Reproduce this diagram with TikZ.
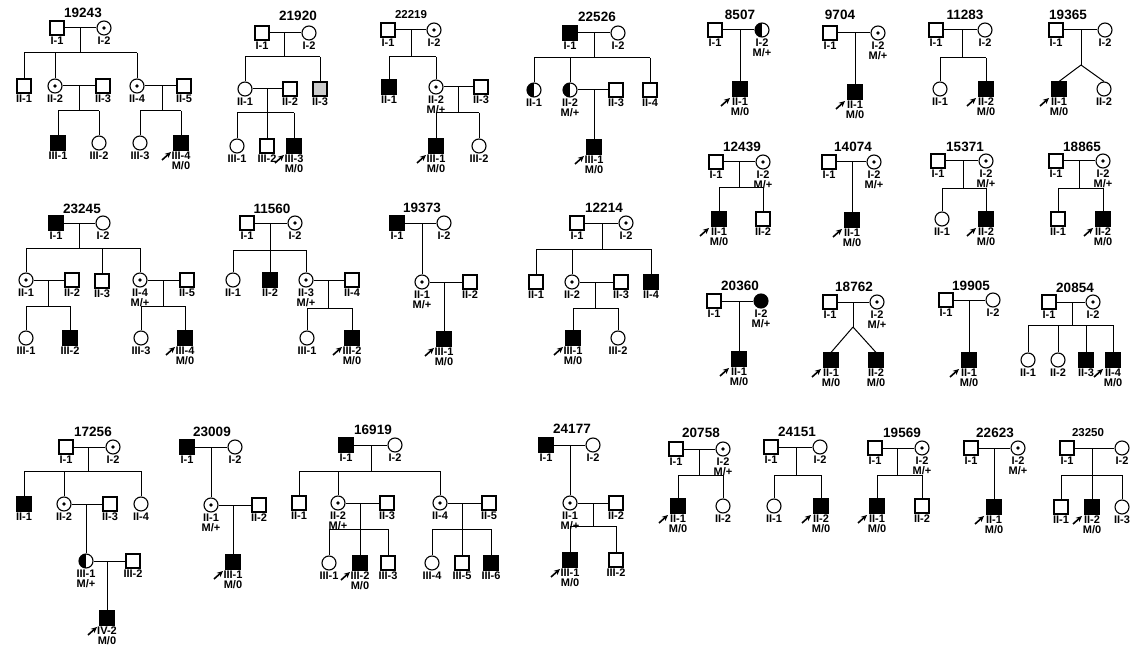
\documentclass[tikz,border=0pt]{standalone}
\usepackage{fontspec}
\setmainfont{Liberation Sans}
\usetikzlibrary{arrows.meta,calc}
\newcommand\PInd[5]{\node[#4] (#1) at (#2,#3) {}; \node[lbl] (#1l) at (#2,#3+8) {#5};}
\newcommand\PProb[1]{\draw[prob] ($(#1)+(-19,17)$) -- ($(#1)+(-10,9)$);}
\newcommand\PSib[3]{\draw (#2 |- #1) -- (#3 |- #1);}
\newcommand\PDrop[2]{\draw (#2 |- #1) -- (#2);}
\tikzset{
  sym/.style={draw, line width=1.1pt, inner sep=0pt, minimum size=14pt, fill=white},
  sq/.style={sym, rectangle},
  sqa/.style={sym, rectangle, fill=black},
  hat/.style={sym, rectangle, fill=gray!40},
  ci/.style={sym, circle},
  cia/.style={sym, circle, fill=black},
  car/.style={sym, circle, path picture={\fill[black] (path picture bounding box.center) circle (1.8pt);}},
  half/.style={sym, circle, path picture={\fill[black] (path picture bounding box.north west) rectangle (path picture bounding box.south);}},
  lbl/.style={anchor=north, inner sep=0.5pt, align=center, font=\bfseries\fontsize{11}{9.5}\selectfont},
  ttl/.style={inner sep=0pt, font=\bfseries\fontsize{13.5}{14}\selectfont},
  ttls/.style={inner sep=0pt, font=\bfseries\fontsize{11.5}{12}\selectfont},
  prob/.style={-{Stealth[length=6pt,width=5.5pt]}, line width=1.6pt}
}
\begin{document}
\begin{tikzpicture}[x=1pt,y=-1pt,line width=1pt]
\fill[white] (0,0) rectangle (1130,650);
\useasboundingbox (0,0) rectangle (1130,650);
% ---------- 19243
\node[ttl] (TA) at (83,13) {19243};
\PInd{A11}{57}{28}{sq}{I-1}
\PInd{A12}{104}{28}{car}{I-2}
\draw (A11) -- (A12);
\coordinate (Am) at (80,28); \coordinate (As) at (80,53);
\draw (Am) -- (As);
\PInd{A21}{24}{86}{sq}{II-1}
\PInd{A22}{55}{86}{car}{II-2}
\PInd{A23}{103}{86}{sq}{II-3}
\PInd{A24}{137}{86}{car}{II-4}
\PInd{A25}{184}{86}{sq}{II-5}
\PSib{As}{A21}{A24} \PDrop{As}{A21} \PDrop{As}{A22} \PDrop{As}{A24}
\draw (A22) -- (A23);
\coordinate (Am2) at (79,86); \coordinate (As2) at (79,111);
\draw (Am2) -- (As2);
\PInd{A31}{58}{143}{sqa}{III-1}
\PInd{A32}{99}{143}{ci}{III-2}
\PSib{As2}{A31}{A32} \PDrop{As2}{A31} \PDrop{As2}{A32}
\draw (A24) -- (A25);
\coordinate (Am3) at (162,86); \coordinate (As3) at (162,111);
\draw (Am3) -- (As3);
\PInd{A33}{140}{143}{ci}{III-3}
\PInd{A34}{181}{143}{sqa}{III-4\\M/0}
\PSib{As3}{A33}{A34} \PDrop{As3}{A33} \PDrop{As3}{A34}
\PProb{A34}
% ---------- 21920
\node[ttl] (TB) at (298,16) {21920};
\PInd{B11}{262}{33}{sq}{I-1}
\PInd{B12}{309}{33}{ci}{I-2}
\draw (B11) -- (B12);
\coordinate (Bm) at (284,33); \coordinate (Bs) at (284,57);
\draw (Bm) -- (Bs);
\PInd{B21}{245}{89}{ci}{II-1}
\PInd{B22}{290}{89}{sq}{II-2}
\PInd{B23}{320}{89}{hat}{II-3}
\PSib{Bs}{B21}{B23} \PDrop{Bs}{B21} \PDrop{Bs}{B23}
\draw (B21) -- (B22);
\coordinate (Bm2) at (267,89); \coordinate (Bs2) at (267,113);
\draw (Bm2) -- (Bs2);
\PInd{B31}{237}{146}{ci}{III-1}
\PInd{B32}{267}{146}{sq}{III-2}
\PInd{B33}{294}{146}{sqa}{III-3\\M/0}
\PSib{Bs2}{B31}{B33} \PDrop{Bs2}{B31} \PDrop{Bs2}{B32} \PDrop{Bs2}{B33}
\PProb{B33}
% ---------- 22219
\node[ttls] (TC) at (411,15) {22219};
\PInd{C11}{388}{30}{sq}{I-1}
\PInd{C12}{434}{30}{car}{I-2}
\draw (C11) -- (C12);
\coordinate (Cm) at (411,30); \coordinate (Cs) at (411,57);
\draw (Cm) -- (Cs);
\PInd{C21}{389}{87}{sqa}{II-1}
\PInd{C22}{436}{87}{car}{II-2\\M/+}
\PInd{C23}{481}{87}{sq}{II-3}
\PSib{Cs}{C21}{C22} \PDrop{Cs}{C21} \PDrop{Cs}{C22}
\draw (C22) -- (C23);
\coordinate (Cm2) at (458,87); \coordinate (Cs2) at (458,113);
\draw (Cm2) -- (Cs2);
\PInd{C31}{436}{146}{sqa}{III-1\\M/0}
\PInd{C32}{479}{146}{ci}{III-2}
\PSib{Cs2}{C31}{C32} \PDrop{Cs2}{C31} \PDrop{Cs2}{C32}
\PProb{C31}
% ---------- 22526
\node[ttl] (TD) at (597,17) {22526};
\PInd{D11}{570}{33}{sqa}{I-1}
\PInd{D12}{618}{33}{ci}{I-2}
\draw (D11) -- (D12);
\coordinate (Dm) at (594,33); \coordinate (Ds) at (594,58);
\draw (Dm) -- (Ds);
\PInd{D21}{534}{90}{half}{II-1}
\PInd{D22}{570}{90}{half}{II-2\\M/+}
\PInd{D23}{616}{90}{sq}{II-3}
\PInd{D24}{650}{90}{sq}{II-4}
\PSib{Ds}{D21}{D24} \PDrop{Ds}{D21} \PDrop{Ds}{D22} \PDrop{Ds}{D24}
\draw (D22) -- (D23);
\coordinate (Dm2) at (594,90);
\PInd{D31}{594}{147}{sqa}{III-1\\M/0}
\draw (Dm2) -- (D31);
\PProb{D31}
% ---------- 8507
\node[ttl] (TE) at (740,15) {8507};
\PInd{E11}{715}{30}{sq}{I-1}
\PInd{E12}{762}{30}{half}{I-2\\M/+}
\draw (E11) -- (E12);
\coordinate (Em) at (740,30);
\PInd{E21}{740}{89}{sqa}{II-1\\M/0}
\draw (Em) -- (E21);
\PProb{E21}
% ---------- 9704
\node[ttl] (TF) at (840,15) {9704};
\PInd{F11}{830}{33}{sq}{I-1}
\PInd{F12}{878}{33}{car}{I-2\\M/+}
\draw (F11) -- (F12);
\coordinate (Fm) at (855,33);
\PInd{F21}{855}{92}{sqa}{II-1\\M/0}
\draw (Fm) -- (F21);
\PProb{F21}
% ---------- 11283
\node[ttl] (TG) at (965,15) {11283};
\PInd{G11}{936}{30}{sq}{I-1}
\PInd{G12}{985}{30}{ci}{I-2}
\draw (G11) -- (G12);
\coordinate (Gm) at (962,30); \coordinate (Gs) at (962,58);
\draw (Gm) -- (Gs);
\PInd{G21}{940}{89}{ci}{II-1}
\PInd{G22}{986}{89}{sqa}{II-2\\M/0}
\PSib{Gs}{G21}{G22} \PDrop{Gs}{G21} \PDrop{Gs}{G22}
\PProb{G22}
% ---------- 19365
\node[ttl] (TH) at (1068,15) {19365};
\PInd{H11}{1056}{30}{sq}{I-1}
\PInd{H12}{1105}{30}{ci}{I-2}
\draw (H11) -- (H12);
\coordinate (Hm) at (1081,30); \coordinate (Hs) at (1081,65);
\draw (Hm) -- (Hs);
\PInd{H21}{1059}{89}{sqa}{II-1\\M/0}
\PInd{H22}{1104}{89}{ci}{II-2}
\draw (Hs) -- (H21.north); \draw (Hs) -- (H22.north);
\PProb{H21}
% ---------- 12439
\node[ttl] (TI) at (742,147) {12439};
\PInd{I11}{716}{162}{sq}{I-1}
\PInd{I12}{763}{162}{car}{I-2\\M/+}
\draw (I11) -- (I12);
\coordinate (Im) at (739,162); \coordinate (Is) at (739,187);
\draw (Im) -- (Is);
\PInd{I21}{719}{219}{sqa}{II-1\\M/0}
\PInd{I22}{763}{219}{sq}{II-2}
\PSib{Is}{I21}{I22} \PDrop{Is}{I21} \PDrop{Is}{I22}
\PProb{I21}
% ---------- 14074
\node[ttl] (TJ) at (853,147) {14074};
\PInd{J11}{829}{162}{sq}{I-1}
\PInd{J12}{874}{162}{car}{I-2\\M/+}
\draw (J11) -- (J12);
\coordinate (Jm) at (852,162);
\PInd{J21}{852}{220}{sqa}{II-1\\M/0}
\draw (Jm) -- (J21);
\PProb{J21}
% ---------- 15371
\node[ttl] (TK) at (965,147) {15371};
\PInd{K11}{938}{161}{sq}{I-1}
\PInd{K12}{986}{161}{car}{I-2\\M/+}
\draw (K11) -- (K12);
\coordinate (Km) at (963,161); \coordinate (Ks) at (963,188);
\draw (Km) -- (Ks);
\PInd{K21}{942}{219}{ci}{II-1}
\PInd{K22}{986}{219}{sqa}{II-2\\M/0}
\PSib{Ks}{K21}{K22} \PDrop{Ks}{K21} \PDrop{Ks}{K22}
\PProb{K22}
% ---------- 18865
\node[ttl] (TL) at (1082,147) {18865};
\PInd{L11}{1056}{161}{sq}{I-1}
\PInd{L12}{1103}{161}{car}{I-2\\M/+}
\draw (L11) -- (L12);
\coordinate (Lm) at (1079,161); \coordinate (Ls) at (1079,188);
\draw (Lm) -- (Ls);
\PInd{L21}{1058}{219}{sq}{II-1}
\PInd{L22}{1103}{219}{sqa}{II-2\\M/0}
\PSib{Ls}{L21}{L22} \PDrop{Ls}{L21} \PDrop{Ls}{L22}
\PProb{L22}
% ---------- 23245
\node[ttl] (TM) at (82,209) {23245};
\PInd{M11}{56}{223}{sqa}{I-1}
\PInd{M12}{103}{223}{ci}{I-2}
\draw (M11) -- (M12);
\coordinate (Mm) at (79,223); \coordinate (Ms) at (79,248);
\draw (Mm) -- (Ms);
\PInd{M21}{26}{280}{car}{II-1}
\PInd{M22}{72}{280}{sq}{II-2}
\PInd{M23}{102}{281}{sq}{II-3}
\PInd{M24}{140}{280}{car}{II-4\\M/+}
\PInd{M25}{187}{280}{sq}{II-5}
\PSib{Ms}{M21}{M24} \PDrop{Ms}{M21} \PDrop{Ms}{M23} \PDrop{Ms}{M24}
\draw (M21) -- (M22);
\coordinate (Mm2) at (48,280); \coordinate (Ms2) at (48,306);
\draw (Mm2) -- (Ms2);
\PInd{M31}{26}{338}{ci}{III-1}
\PInd{M32}{70}{338}{sqa}{III-2}
\PSib{Ms2}{M31}{M32} \PDrop{Ms2}{M31} \PDrop{Ms2}{M32}
\draw (M24) -- (M25);
\coordinate (Mm3) at (163,280); \coordinate (Ms3) at (163,306);
\draw (Mm3) -- (Ms3);
\PInd{M33}{141}{338}{ci}{III-3}
\PInd{M34}{185}{338}{sqa}{III-4\\M/0}
\PSib{Ms3}{M33}{M34} \PDrop{Ms3}{M33} \PDrop{Ms3}{M34}
\PProb{M34}
% ---------- 11560
\node[ttl] (TN) at (272,209) {11560};
\PInd{N11}{247}{223}{sq}{I-1}
\PInd{N12}{295}{223}{car}{I-2}
\draw (N11) -- (N12);
\coordinate (Nm) at (270,223); \coordinate (Ns) at (270,250);
\draw (Nm) -- (Ns);
\PInd{N21}{233}{280}{ci}{II-1}
\PInd{N22}{270}{280}{sqa}{II-2}
\PInd{N23}{306}{280}{car}{II-3\\M/+}
\PInd{N24}{352}{280}{sq}{II-4}
\PSib{Ns}{N21}{N23} \PDrop{Ns}{N21} \PDrop{Ns}{N22} \PDrop{Ns}{N23}
\draw (N23) -- (N24);
\coordinate (Nm2) at (328,280); \coordinate (Ns2) at (328,308);
\draw (Nm2) -- (Ns2);
\PInd{N31}{307}{338}{ci}{III-1}
\PInd{N32}{352}{338}{sqa}{III-2\\M/0}
\PSib{Ns2}{N31}{N32} \PDrop{Ns2}{N31} \PDrop{Ns2}{N32}
\PProb{N32}
% ---------- 19373
\node[ttl] (TO) at (422,208) {19373};
\PInd{O11}{397}{223}{sqa}{I-1}
\PInd{O12}{444}{223}{ci}{I-2}
\draw (O11) -- (O12);
\coordinate (Om) at (422,223);
\PInd{O21}{422}{282}{car}{II-1\\M/+}
\PInd{O22}{470}{282}{sq}{II-2}
\draw (Om) -- (O21);
\draw (O21) -- (O22);
\coordinate (Om2) at (444,282);
\PInd{O31}{444}{339}{sqa}{III-1\\M/0}
\draw (Om2) -- (O31);
\PProb{O31}
% ---------- 12214
\node[ttl] (TP) at (604,208) {12214};
\PInd{P11}{577}{223}{sq}{I-1}
\PInd{P12}{626}{223}{car}{I-2}
\draw (P11) -- (P12);
\coordinate (Pm) at (602,223); \coordinate (Ps) at (602,249);
\draw (Pm) -- (Ps);
\PInd{P21}{536}{282}{sq}{II-1}
\PInd{P22}{572}{282}{car}{II-2}
\PInd{P23}{621}{282}{sq}{II-3}
\PInd{P24}{651}{282}{sqa}{II-4}
\PSib{Ps}{P21}{P24} \PDrop{Ps}{P21} \PDrop{Ps}{P22} \PDrop{Ps}{P24}
\draw (P22) -- (P23);
\coordinate (Pm2) at (595,282); \coordinate (Ps2) at (595,308);
\draw (Pm2) -- (Ps2);
\PInd{P31}{573}{338}{sqa}{III-1\\M/0}
\PInd{P32}{618}{338}{ci}{III-2}
\PSib{Ps2}{P31}{P32} \PDrop{Ps2}{P31} \PDrop{Ps2}{P32}
\PProb{P31}
% ---------- 20360
\node[ttl] (TQ) at (740,286) {20360};
\PInd{Q11}{714}{301}{sq}{I-1}
\PInd{Q12}{761}{301}{cia}{I-2\\M/+}
\draw (Q11) -- (Q12);
\coordinate (Qm) at (739,301);
\PInd{Q21}{739}{359}{sqa}{II-1\\M/0}
\draw (Qm) -- (Q21);
\PProb{Q21}
% ---------- 18762
\node[ttl] (TR) at (854,287) {18762};
\PInd{R11}{830}{302}{sq}{I-1}
\PInd{R12}{877}{302}{car}{I-2\\M/+}
\draw (R11) -- (R12);
\coordinate (Rm) at (853,302); \coordinate (Rs) at (853,327);
\draw (Rm) -- (Rs);
\PInd{R21}{831}{360}{sqa}{II-1\\M/0}
\PInd{R22}{876}{360}{sqa}{II-2\\M/0}
\draw (Rs) -- (R21.north); \draw (Rs) -- (R22.north);
\PProb{R21}
% ---------- 19905
\node[ttl] (TS) at (971,286) {19905};
\PInd{S11}{946}{300}{sq}{I-1}
\PInd{S12}{993}{300}{ci}{I-2}
\draw (S11) -- (S12);
\coordinate (Sm) at (969,300);
\PInd{S21}{969}{360}{sqa}{II-1\\M/0}
\draw (Sm) -- (S21);
\PProb{S21}
% ---------- 20854
\node[ttl] (TU) at (1075,288) {20854};
\PInd{U11}{1049}{302}{sq}{I-1}
\PInd{U12}{1093}{302}{car}{I-2}
\draw (U11) -- (U12);
\coordinate (Um) at (1072,302); \coordinate (Us) at (1072,325);
\draw (Um) -- (Us);
\PInd{U21}{1028}{360}{ci}{II-1}
\PInd{U22}{1058}{360}{ci}{II-2}
\PInd{U23}{1086}{360}{sqa}{II-3}
\PInd{U24}{1113}{360}{sqa}{II-4\\M/0}
\PSib{Us}{U21}{U24} \PDrop{Us}{U21} \PDrop{Us}{U22} \PDrop{Us}{U23} \PDrop{Us}{U24}
\PProb{U24}
% ---------- 17256
\node[ttl] (TV) at (93,432) {17256};
\PInd{V11}{66}{447}{sq}{I-1}
\PInd{V12}{113}{447}{car}{I-2}
\draw (V11) -- (V12);
\coordinate (Vm) at (88,447); \coordinate (Vs) at (88,471);
\draw (Vm) -- (Vs);
\PInd{V21}{24}{504}{sqa}{II-1}
\PInd{V22}{64}{504}{car}{II-2}
\PInd{V23}{110}{504}{sq}{II-3}
\PInd{V24}{141}{504}{ci}{II-4}
\PSib{Vs}{V21}{V24} \PDrop{Vs}{V21} \PDrop{Vs}{V22} \PDrop{Vs}{V24}
\draw (V22) -- (V23);
\coordinate (Vm2) at (86,504);
\PInd{V31}{86}{561}{half}{III-1\\M/+}
\PInd{V32}{133}{561}{sq}{III-2}
\draw (Vm2) -- (V31);
\draw (V31) -- (V32);
\coordinate (Vm3) at (107,561);
\PInd{V41}{107}{618}{sqa}{IV-2\\M/0}
\draw (Vm3) -- (V41);
\PProb{V41}
% ---------- 23009
\node[ttl] (TW) at (212,432) {23009};
\PInd{W11}{187}{447}{sqa}{I-1}
\PInd{W12}{235}{447}{ci}{I-2}
\draw (W11) -- (W12);
\coordinate (Wm) at (211,447);
\PInd{W21}{211}{505}{car}{II-1\\M/+}
\PInd{W22}{259}{505}{sq}{II-2}
\draw (Wm) -- (W21);
\draw (W21) -- (W22);
\coordinate (Wm2) at (233,505);
\PInd{W31}{233}{562}{sqa}{III-1\\M/0}
\draw (Wm2) -- (W31);
\PProb{W31}
% ---------- 16919
\node[ttl] (TX) at (373,430) {16919};
\PInd{X11}{346}{445}{sqa}{I-1}
\PInd{X12}{395}{445}{ci}{I-2}
\draw (X11) -- (X12);
\coordinate (Xm) at (371,445); \coordinate (Xs) at (371,471);
\draw (Xm) -- (Xs);
\PInd{X21}{299}{503}{sq}{II-1}
\PInd{X22}{338}{503}{car}{II-2\\M/+}
\PInd{X23}{387}{503}{sq}{II-3}
\PInd{X24}{440}{503}{car}{II-4}
\PInd{X25}{489}{503}{sq}{II-5}
\PSib{Xs}{X21}{X24} \PDrop{Xs}{X21} \PDrop{Xs}{X22} \PDrop{Xs}{X24}
\draw (X22) -- (X23);
\coordinate (Xm2) at (360,503); \coordinate (Xs2) at (360,529);
\draw (Xm2) -- (Xs2);
\PInd{X31}{329}{563}{ci}{III-1}
\PInd{X32}{360}{563}{sqa}{III-2\\M/0}
\PInd{X33}{388}{563}{sq}{III-3}
\PSib{Xs2}{X31}{X33} \PDrop{Xs2}{X31} \PDrop{Xs2}{X32} \PDrop{Xs2}{X33}
\PProb{X32}
\draw (X24) -- (X25);
\coordinate (Xm3) at (462,503); \coordinate (Xs3) at (462,529);
\draw (Xm3) -- (Xs3);
\PInd{X34}{432}{563}{ci}{III-4}
\PInd{X35}{462}{563}{sq}{III-5}
\PInd{X36}{491}{563}{sqa}{III-6}
\PSib{Xs3}{X34}{X36} \PDrop{Xs3}{X34} \PDrop{Xs3}{X35} \PDrop{Xs3}{X36}
% ---------- 24177
\node[ttl] (TY) at (572,429) {24177};
\PInd{Y11}{546}{445}{sqa}{I-1}
\PInd{Y12}{593}{445}{ci}{I-2}
\draw (Y11) -- (Y12);
\coordinate (Ym) at (570,445);
\PInd{Y21}{570}{503}{car}{II-1\\M/+}
\PInd{Y22}{616}{503}{sq}{II-2}
\draw (Ym) -- (Y21);
\draw (Y21) -- (Y22);
\coordinate (Ym2) at (593,503); \coordinate (Ys2) at (593,526);
\draw (Ym2) -- (Ys2);
\PInd{Y31}{570}{560}{sqa}{III-1\\M/0}
\PInd{Y32}{616}{560}{sq}{III-2}
\PSib{Ys2}{Y31}{Y32} \PDrop{Ys2}{Y31} \PDrop{Ys2}{Y32}
\PProb{Y31}
% ---------- 20758
\node[ttl] (TZ) at (701,433) {20758};
\PInd{Z11}{676}{449}{sq}{I-1}
\PInd{Z12}{723}{449}{car}{I-2\\M/+}
\draw (Z11) -- (Z12);
\coordinate (Zm) at (699,449); \coordinate (Zs) at (699,475);
\draw (Zm) -- (Zs);
\PInd{Z21}{678}{506}{sqa}{II-1\\M/0}
\PInd{Z22}{723}{506}{ci}{II-2}
\PSib{Zs}{Z21}{Z22} \PDrop{Zs}{Z21} \PDrop{Zs}{Z22}
\PProb{Z21}
% ---------- 24151
\node[ttl] (TAA) at (797,432) {24151};
\PInd{AA11}{771}{447}{sq}{I-1}
\PInd{AA12}{820}{447}{ci}{I-2}
\draw (AA11) -- (AA12);
\coordinate (AAm) at (796,447); \coordinate (AAs) at (796,475);
\draw (AAm) -- (AAs);
\PInd{AA21}{774}{506}{ci}{II-1}
\PInd{AA22}{821}{506}{sqa}{II-2\\M/0}
\PSib{AAs}{AA21}{AA22} \PDrop{AAs}{AA21} \PDrop{AAs}{AA22}
\PProb{AA22}
% ---------- 19569
\node[ttl] (TAB) at (902,433) {19569};
\PInd{AB11}{875}{448}{sq}{I-1}
\PInd{AB12}{922}{448}{car}{I-2\\M/+}
\draw (AB11) -- (AB12);
\coordinate (ABm) at (897,448); \coordinate (ABs) at (897,475);
\draw (ABm) -- (ABs);
\PInd{AB21}{877}{506}{sqa}{II-1\\M/0}
\PInd{AB22}{922}{506}{sq}{II-2}
\PSib{ABs}{AB21}{AB22} \PDrop{ABs}{AB21} \PDrop{ABs}{AB22}
\PProb{AB21}
% ---------- 22623
\node[ttl] (TAC) at (995,433) {22623};
\PInd{AC11}{971}{448}{sq}{I-1}
\PInd{AC12}{1018}{448}{car}{I-2\\M/+}
\draw (AC11) -- (AC12);
\coordinate (ACm) at (994,448);
\PInd{AC21}{994}{507}{sqa}{II-1\\M/0}
\draw (ACm) -- (AC21);
\PProb{AC21}
% ---------- 23250
\node[ttls] (TAD) at (1088,433) {23250};
\PInd{AD11}{1067}{448}{sq}{I-1}
\PInd{AD12}{1122}{448}{ci}{I-2}
\draw (AD11) -- (AD12);
\coordinate (ADm) at (1092,448); \coordinate (ADs) at (1092,475);
\draw (ADm) -- (ADs);
\PInd{AD21}{1061}{507}{sq}{II-1}
\PInd{AD22}{1092}{507}{sqa}{II-2\\M/0}
\PInd{AD23}{1122}{507}{ci}{II-3}
\PSib{ADs}{AD21}{AD23} \PDrop{ADs}{AD21} \PDrop{ADs}{AD22} \PDrop{ADs}{AD23}
\PProb{AD22}
\end{tikzpicture}
\end{document}
